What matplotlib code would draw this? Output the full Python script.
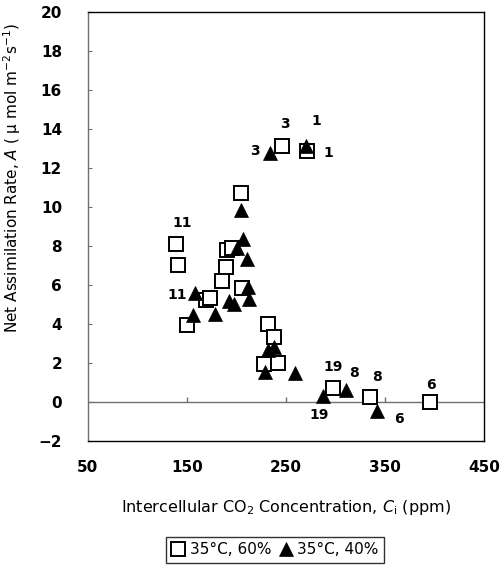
import matplotlib
matplotlib.use("Agg")
import matplotlib.pyplot as plt

plt.rcParams['font.family'] = ['DejaVu Sans']
plt.rcParams['mathtext.fontset'] = 'dejavusans'

# 35°C, 60% (open squares)
sq_ci = [139.2, 141.5, 150.6, 169.2, 173.5, 186.0, 189.4, 191.0, 195.5, 204.8,
         205.6, 232.4, 238.2, 228.4, 241.9, 246.0, 271.5, 297.5, 335.2, 395.1]
sq_a = [8.10, 7.03, 3.91, 5.24, 5.32, 6.19, 6.91, 7.80, 7.86, 10.69,
        5.85, 3.97, 3.32, 1.93, 1.99, 13.13, 12.85, 0.72, 0.23, 0.0]

# 35°C, 40% (filled triangles)
tr_ci = [158.4, 156.7, 178.3, 192.4, 198.1, 212.4, 212.2, 211.2, 200.5, 207.2,
         204.8, 232.1, 238.2, 229.4, 259.4, 234.2, 270.5, 288.0, 310.6, 342.5]
tr_a = [5.58, 4.47, 4.50, 5.17, 5.03, 5.29, 5.88, 7.34, 7.90, 8.36,
        9.84, 2.65, 2.80, 1.53, 1.48, 12.74, 13.10, 0.29, 0.60, -0.46]

# Point labels (text, x, y)
lab_txt = ["11", "11", "3", "3", "1", "1", "19", "19", "8", "8", "6", "6"]
lab_x = [144.9, 139.9, 249.4, 219.0, 281.2, 292.7, 298.0, 283.6, 318.3, 341.9, 363.7, 396.5]
lab_y = [9.16, 5.49, 14.24, 12.84, 14.37, 12.77, 1.79, -0.68, 1.48, 1.25, -0.90, 0.85]

x_ticks = [50, 150, 250, 350, 450]
y_ticks = [-2, 0, 2, 4, 6, 8, 10, 12, 14, 16, 18, 20]

fig = plt.figure(figsize=(5.0, 5.71), dpi=100)
ax = fig.add_axes([0.1754, 0.2282, 0.7926, 0.7513])

ax.set_xlim(50, 450)
ax.set_ylim(-2, 20)

ax.axhline(0, color='#707070', lw=1.0, zorder=1)
ax.vlines(x_ticks[1:4], 0, 0.25, color='#707070', lw=1.0, zorder=1)

ax.plot(sq_ci, sq_a, linestyle='none', marker='s', markersize=9.5,
        markerfacecolor='white', markeredgecolor='black', markeredgewidth=1.4,
        zorder=3, label='35\u00b0C, 60%')
ax.plot(tr_ci, tr_a, linestyle='none', marker='^', markersize=10,
        markerfacecolor='black', markeredgecolor='black', markeredgewidth=0.5,
        zorder=4, label='35\u00b0C, 40%')

for t, x, y in zip(lab_txt, lab_x, lab_y):
    ax.text(x, y, t, ha='center', va='center', fontsize=10, fontweight='bold', zorder=5)

ax.set_xticks(x_ticks)
ax.set_yticks(y_ticks)
ax.set_xticklabels([str(v) for v in x_ticks], fontsize=11, fontweight='bold')
ax.set_yticklabels([str(v) if v >= 0 else '\u22122' for v in y_ticks], fontsize=11, fontweight='bold')
ax.tick_params(axis='x', length=0, pad=14.0)
ax.tick_params(axis='y', direction='in', length=3, width=0.8, pad=18.5, color='#707070')

for s in ['top', 'right', 'bottom']:
    ax.spines[s].set_color('black')
    ax.spines[s].set_linewidth(1.0)
ax.spines['left'].set_color('#707070')
ax.spines['left'].set_linewidth(1.0)

ax.set_xlabel('Intercellular CO$_2$ Concentration, $C_\\mathrm{i}$ (ppm)', fontsize=11.5)
ax.xaxis.set_label_coords(0.5, -0.133)
ax.set_ylabel('Net Assimilation Rate, $A$ ( \u03bc mol m$^{-2}$s$^{-1}$)', fontsize=11)
ax.yaxis.set_label_coords(-0.162, 0.612)

leg = fig.legend(loc='center', bbox_to_anchor=(275 / 500, 1 - 550 / 571), ncol=2,
                 frameon=True, fancybox=False, fontsize=11, handlelength=0.9,
                 handletextpad=0.3, columnspacing=0.5, borderpad=0.35,
                 borderaxespad=0)
leg.get_frame().set_edgecolor('black')
leg.get_frame().set_linewidth(1.0)

fig.savefig('out.png', dpi=100)
